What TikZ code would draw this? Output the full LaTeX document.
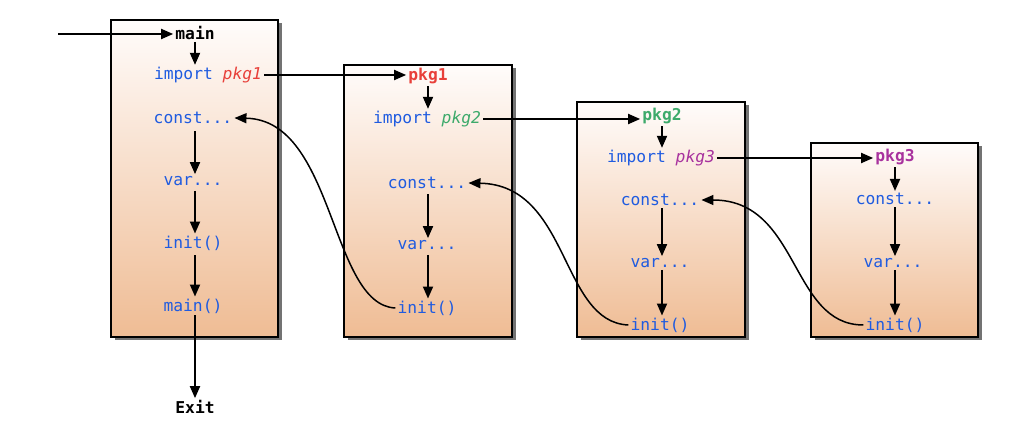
\documentclass[tikz,border=0pt]{standalone}
\usepackage{fontspec}
\setmonofont{DejaVu Sans Mono}
\usetikzlibrary{arrows.meta,shadows}
\definecolor{kw}{HTML}{1F5BE0}
\definecolor{pA}{HTML}{E8403A}
\definecolor{pB}{HTML}{3DAA6B}
\definecolor{pC}{HTML}{A8329E}
\definecolor{boxtop}{HTML}{FFFCFB}
\definecolor{boxbot}{HTML}{EFBC94}
\tikzset{
  pkgbox/.style={draw=black, line width=2.2pt, top color=boxtop, bottom color=boxbot,
    drop shadow={shadow xshift=3.5pt, shadow yshift=-3.5pt, fill=black!55, opacity=1}},
  lbl/.style={font=\ttfamily\fontsize{16.3}{19}\selectfont, text=kw, inner sep=2pt},
  hd/.style={font=\ttfamily\bfseries\fontsize{16.3}{19}\selectfont, inner sep=2pt},
  flow/.style={line width=1.8pt, -{Triangle[length=12pt,width=10pt]}},
  back/.style={line width=1.5pt, -{Triangle[length=12pt,width=10pt]}},
}
\begin{document}
\begin{tikzpicture}[x=1pt,y=-1pt]
\useasboundingbox (0,0) rectangle (1023,435);
% boxes
\node[pkgbox, minimum width=167pt, minimum height=317pt, inner sep=0pt] (b1) at (194.5,178.5) {};
\node[pkgbox, minimum width=168pt, minimum height=272pt, inner sep=0pt] (b2) at (428,201) {};
\node[pkgbox, minimum width=168pt, minimum height=235pt, inner sep=0pt] (b3) at (661,219.5) {};
\node[pkgbox, minimum width=167pt, minimum height=194pt, inner sep=0pt] (b4) at (894.5,240) {};
% box 1
\coordinate (start) at (58,34);
\node[hd] (m) at (195,33) {main};
\node[lbl] (i1) at (208,75) {import \textcolor{pA}{\itshape pkg1}};
\node[lbl] (c1) at (193,118) {const...};
\node[lbl] (v1) at (193,181) {var...};
\node[lbl] (n1) at (193,243) {init()};
\node[lbl] (mm) at (193,306) {main()};
\node[hd] (ex) at (195,407) {Exit};
% box 2
\node[hd, text=pA] (p1) at (428,76) {pkg1};
\node[lbl] (i2) at (427,119) {import \textcolor{pB}{\itshape pkg2}};
\node[lbl] (c2) at (427,183) {const...};
\node[lbl] (v2) at (427,245) {var...};
\node[lbl] (n2) at (427,308) {init()};
% box 3
\node[hd, text=pB] (p2) at (662,116) {pkg2};
\node[lbl] (i3) at (661,158) {import \textcolor{pC}{\itshape pkg3}};
\node[lbl] (c3) at (660,200) {const...};
\node[lbl] (v3) at (660,263) {var...};
\node[lbl] (n3) at (660,325) {init()};
% box 4
\node[hd, text=pC] (p3) at (895,157) {pkg3};
\node[lbl] (c4) at (895,199) {const...};
\node[lbl] (v4) at (893,263) {var...};
\node[lbl] (n4) at (895,325) {init()};
% flow arrows
\draw[flow] (start) -- (start -| m.west);
\draw[flow] (m.south -| 195,0) -- (i1.north -| 195,0);
\draw[flow] (c1.south -| 195,0) ++(0,5) -- (v1.north -| 195,0);
\draw[flow] (v1.south -| 195,0) ++(0,3) -- (n1.north -| 195,0);
\draw[flow] (n1.south -| 195,0) ++(0,3) -- (mm.north -| 195,0);
\draw[flow] (mm.south -| 195,0) -- (ex.north -| 195,0);
\draw[flow] (i1.east) -- (i1.east -| p1.west);
\draw[flow] (p1.south -| 428,0) -- (i2.north -| 428,0);
\draw[flow] (c2.south -| 428,0) ++(0,3) -- (v2.north -| 428,0);
\draw[flow] (v2.south -| 428,0) ++(0,3) -- (n2.north -| 428,0);
\draw[flow] (i2.east) -- (i2.east -| p2.west);
\draw[flow] (p2.south -| 662,0) -- (i3.north -| 662,0);
\draw[flow] (c3.south -| 662,0) -- (v3.north -| 662,0);
\draw[flow] (v3.south -| 662,0) -- (n3.north -| 662,0);
\draw[flow] (i3.east) -- (i3.east -| p3.west);
\draw[flow] (p3.south -| 895,0) -- (c4.north -| 895,0);
\draw[flow] (c4.south -| 895,0) -- (v4.north -| 895,0);
\draw[flow] (v4.south -| 895,0) -- (n4.north -| 895,0);
% back arrows
\draw[back] (n2.west) .. controls (330,305) and (335,120) .. (c1.east);
\draw[back] (n3.west) .. controls (560,322) and (570,185) .. (c2.east);
\draw[back] (n4.west) .. controls (790,325) and (800,200) .. (c3.east);
\end{tikzpicture}
\end{document}
